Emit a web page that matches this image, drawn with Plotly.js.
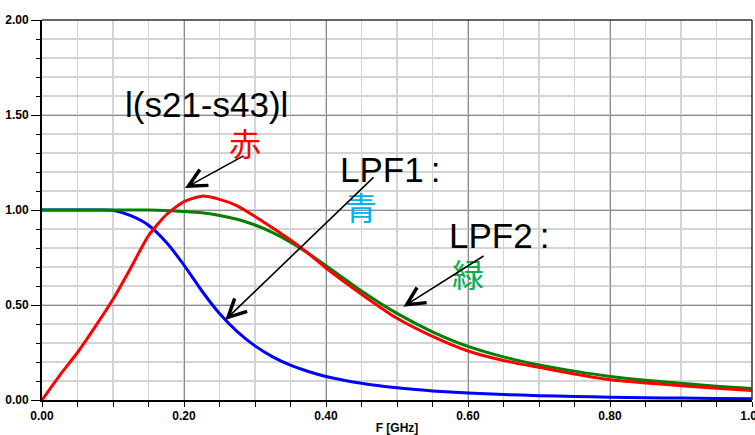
<!DOCTYPE html>
<html>
<head>
<meta charset="utf-8">
<script src="https://cdn.plot.ly/plotly-3.0.1.min.js"></script>
<style>html,body{margin:0;padding:0;background:#fff;}#chart{width:755px;height:435px;}</style>
</head>
<body>
<div id="chart"></div>
<script>
// Frequency [GHz]
const freq = [0,0.025,0.05,0.075,0.1,0.125,0.15,0.175,0.2,0.225,0.25,0.275,0.3,0.325,0.35,0.375,0.4,0.45,0.5,0.55,0.6,0.65,0.7,0.75,0.8,0.85,0.9,0.95,1.0];
// LPF1 (blue)
const lpf1 = [1,1,1,1,0.998,0.97,0.92,0.83,0.71,0.575,0.455,0.36,0.285,0.227,0.183,0.15,0.124,0.088,0.064,0.048,0.037,0.029,0.023,0.019,0.015,0.012,0.01,0.008,0.006];
// LPF2 (green)
const lpf2 = [1,1,1,1,1,1,1,0.997,0.992,0.985,0.971,0.951,0.921,0.881,0.831,0.772,0.707,0.574,0.456,0.359,0.282,0.227,0.185,0.152,0.124,0.104,0.088,0.073,0.06];
// |s21-s43| (red)
const diff = [0,0.13,0.25,0.386,0.53,0.695,0.865,0.975,1.044,1.073,1.056,1.022,0.966,0.905,0.842,0.772,0.695,0.557,0.43,0.335,0.258,0.208,0.172,0.137,0.107,0.09,0.075,0.062,0.05];

const xTicks = [0,0.2,0.4,0.6,0.8,1.0];
const xTickText = ["0.00","0.20","0.40","0.60","0.80","1.00"];
const yTicks = [0,0.5,1.0,1.5,2.0];
const yTickText = ["0.00","0.50","1.00","1.50","2.00"];

const latin = "Liberation Sans, Arial, sans-serif";
const cjk = "Liberation Sans, Arial, Noto Sans CJK JP, sans-serif";

const traces = [
  {x: freq, y: lpf1, mode: "lines", line: {color: "#0000ff", width: 3, shape: "spline", smoothing: 0.6}},
  {x: freq, y: lpf2, mode: "lines", line: {color: "#008000", width: 3, shape: "spline", smoothing: 0.6}},
  {x: freq, y: diff, mode: "lines", line: {color: "#ff0000", width: 3, shape: "spline", smoothing: 0.6}}
];

function arrow(x, y, ax, ay) {
  return {x: x, y: y, ax: ax, ay: ay, xref: "x", yref: "y", axref: "x", ayref: "y",
    showarrow: true, arrowhead: 5, arrowsize: 2.2, arrowwidth: 1.6, arrowcolor: "#000", text: ""};
}
function label(t, x, y, size, color, anchor) {
  return {x: x, y: y, xref: "x", yref: "y", text: t, showarrow: false,
    xanchor: anchor || "center", yanchor: "middle", font: {family: cjk, size: size, color: color}};
}

const annotations = [
  label("l(s21-s43)l", 0.231, 1.556, 35, "#000"),
  label("赤", 0.286, 1.342, 32, "#ff0000"),
  arrow(0.2014, 1.116, 0.286, 1.289),
  label("LPF1\u2009:", 0.417, 1.213, 35, "#000", "left"),
  label("青", 0.4486, 1.005, 32, "#00b0f0"),
  arrow(0.258, 0.421, 0.469, 1.179),
  label("LPF2\u2009:", 0.5704, 0.864, 35, "#000", "left"),
  label("緑", 0.60, 0.653, 32, "#00b050"),
  arrow(0.509, 0.491, 0.624, 0.763)
];

const layout = {
  width: 755, height: 435,
  margin: {l: 42, r: 3, t: 20, b: 35},
  paper_bgcolor: "#fff", plot_bgcolor: "#fff",
  showlegend: false,
  hovermode: false,
  xaxis: {
    range: [0, 1], tickvals: xTicks, ticktext: xTickText,
    tickfont: {family: latin, size: 12, color: "#000", weight: "bold"},
    ticklabeloverflow: "allow",
    ticks: "outside", ticklen: 4, tickcolor: "rgba(0,0,0,0)",
    showgrid: true, gridcolor: "#8c8c8c", gridwidth: 1,
    showline: true, linecolor: "#000", linewidth: 2,
    zeroline: false,
    minor: {dtick: 0.05, showgrid: true, gridcolor: "#d4d4d4", gridwidth: 1.3, ticks: "outside", ticklen: 5, tickcolor: "#000"},
    title: {text: "F [GHz]", font: {family: latin, size: 12, color: "#000", weight: "bold"}, standoff: 5}
  },
  yaxis: {
    range: [0, 2], tickvals: yTicks, ticktext: yTickText,
    tickfont: {family: latin, size: 12, color: "#000", weight: "bold"},
    ticks: "outside", ticklen: 9, tickcolor: "#000",
    showgrid: true, gridcolor: "#8c8c8c", gridwidth: 1,
    showline: true, linecolor: "#000", linewidth: 2,
    zeroline: false,
    minor: {dtick: 0.1, showgrid: true, gridcolor: "#d4d4d4", gridwidth: 1.3, ticks: "outside", ticklen: 4, tickcolor: "#000"}
  },
  shapes: [
    {type: "line", xref: "paper", yref: "paper", x0: 0, x1: 1, y0: 1, y1: 1, line: {color: "#333", width: 1.5}},
    {type: "line", xref: "paper", yref: "paper", x0: 1, x1: 1, y0: 0, y1: 1, line: {color: "#333", width: 1.5}}
  ],
  annotations: annotations
};

Plotly.newPlot("chart", traces, layout, {displayModeBar: false, staticPlot: true});
</script>
</body>
</html>
